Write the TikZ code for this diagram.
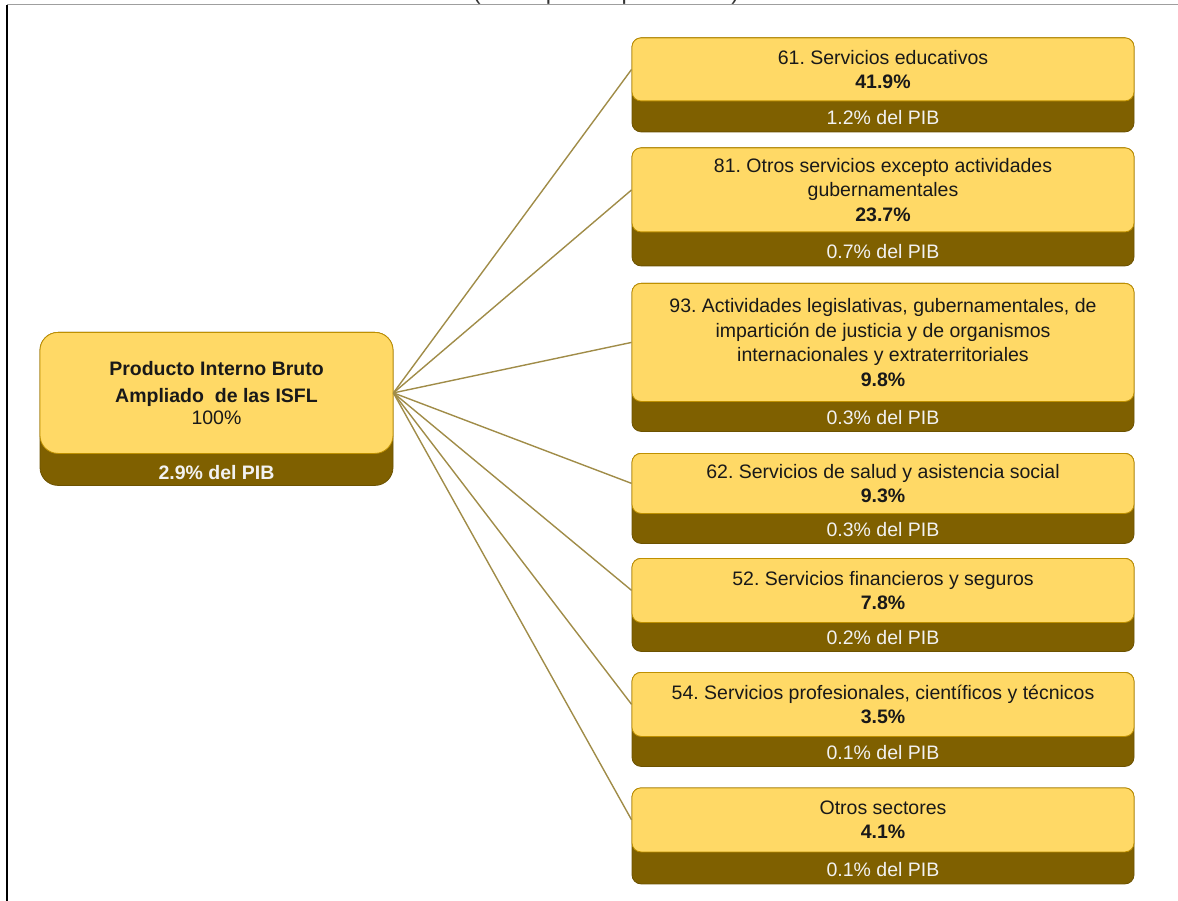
\documentclass[tikz,border=0pt]{standalone}
\usepackage{fontspec}
\setmainfont{Liberation Sans}
\usetikzlibrary{positioning}

\definecolor{oro}{RGB}{255,217,102}
\definecolor{cafe}{RGB}{127,96,0}
\definecolor{borde}{RGB}{191,144,0}
\definecolor{enlace}{RGB}{160,140,72}

\tikzset{
  basebox/.style={rectangle, rounded corners=9pt, fill=cafe, draw=cafe!85!black,
    line width=0.8pt, minimum width=502pt, inner sep=0pt},
  sectorbox/.style={rectangle, rounded corners=9pt, fill=oro, draw=borde,
    line width=0.8pt, minimum width=502pt, inner sep=0pt, align=center,
    text=black!90, font=\fontsize{19.5}{24.5}\selectfont},
  pibtext/.style={text=white!95!black, inner sep=0pt, font=\fontsize{19.5}{24.5}\selectfont},
  enlace/.style={draw=enlace, line width=1.4pt}
}

% #1 nombre, #2 arriba, #3 alto amarillo, #4 alto total, #5 texto, #6 porcentaje, #7 PIB
\newcommand{\sector}[7]{%
  \node[basebox, minimum height=#4pt, anchor=north] (#1b) at (883,#2) {};
  \node[sectorbox, minimum height=#3pt, anchor=north] (#1) at (883,#2) {#5\\\textbf{#6}};
  \node[pibtext, anchor=base] (#1p) at ([yshift=7.5pt]#1b.south) {#7};
}

\begin{document}
\frenchspacing
\begin{tikzpicture}[x=1pt,y=-1pt]
\useasboundingbox (0,0) rectangle (1178,901);

% titulo cortado
\begin{scope}
\clip (0,0) rectangle (1178,901);
\node[anchor=base, inner sep=0pt, text=black!80, font=\fontsize{23.5}{28}\selectfont] (titulo) at (606,-0.5) {(Participación porcentual)};
\end{scope}

% marco
\draw[gray!75, line width=1pt] (7,5) -- (1178,5);
\draw[black, line width=1.3pt] (7,5) -- (7,901);

% nodo raiz
\node[basebox, rounded corners=18pt, minimum width=353pt, minimum height=153pt, anchor=north] (isflb) at (216.5,332) {};
\node[sectorbox, rounded corners=18pt, minimum width=353pt, minimum height=121pt, anchor=north] (isfl) at (216.5,332)
  {\textbf{Producto Interno Bruto}\\[2.5pt]\textbf{Ampliado\ \ de las ISFL}\\[-2.5pt]100\%};
\node[pibtext, anchor=base] (isflp) at ([yshift=6pt]isflb.south) {\textbf{2.9\% del PIB}};

% sectores
\sector{s61}{37.5}{63}{94}{61. Servicios educativos}{41.9\%}{1.2\% del PIB}
\sector{s81}{147.5}{84}{118}{81. Otros servicios excepto actividades\\gubernamentales}{23.7\%}{0.7\% del PIB}
\sector{s93}{283}{118}{148}{93. Actividades legislativas, gubernamentales, de\\impartición de justicia y de organismos\\internacionales y extraterritoriales}{9.8\%}{0.3\% del PIB}
\sector{s62}{453}{60}{90}{62. Servicios de salud y asistencia social}{9.3\%}{0.3\% del PIB}
\sector{s52}{558}{64}{93}{52. Servicios financieros y seguros}{7.8\%}{0.2\% del PIB}
\sector{s54}{672}{64}{94}{54. Servicios profesionales, científicos y técnicos}{3.5\%}{0.1\% del PIB}
\sector{sot}{787.5}{64}{96}{Otros sectores}{4.1\%}{0.1\% del PIB}

% enlaces
\foreach \s in {s61,s81,s93,s62,s52,s54,sot}
  \draw[enlace] (isfl.east) -- (\s.west);

\end{tikzpicture}
\end{document}
